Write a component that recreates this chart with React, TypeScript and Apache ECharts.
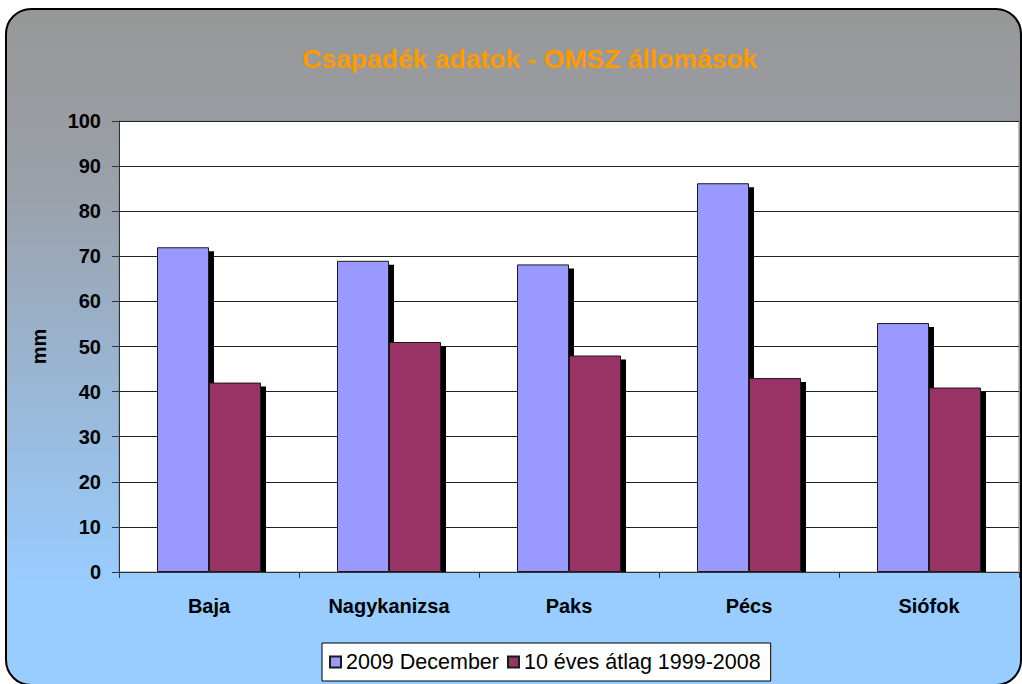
import React, { useEffect, useRef } from "react";
import * as echarts from "echarts";

const titleText = "Csapadék adatok - OMSZ állomások";
const categories = ["Baja", "Nagykanizsa", "Paks", "Pécs", "Siófok"];
const seriesNames = ["2009 December", "10 éves átlag 1999-2008"];
const december2009 = [72, 69, 68.2, 86.2, 55.2];
const avg1999_2008 = [42, 51, 48, 43, 40.9];
const yAxisName = "mm";

const BAR_W = 52;

export default function App() {
  const ref = useRef<HTMLDivElement>(null);
  useEffect(() => {
    if (!ref.current) return;
    const chart = echarts.init(ref.current, null, { renderer: "svg" });
    const font = "'Liberation Sans', Arial, sans-serif";
    const barStyle = (color: string) => ({
      color,
      borderColor: "#1a1a1a",
      borderWidth: 1,
    });
    const shadowSeries = (values: number[], seriesIdx: number) => ({
      type: "custom",
      name: "shadow" + seriesIdx,
      data: values.map((v, i) => [i, v]),
      z: 1,
      silent: true,
      renderItem: (params: any, api: any) => {
        const idx = api.value(0);
        const top = api.coord([idx, api.value(1)]);
        const base = api.coord([idx, 0]);
        const right = top[0] - BAR_W + seriesIdx * BAR_W + BAR_W;
        return {
          type: "rect",
          shape: { x: right, y: top[1] + 4, width: 5, height: base[1] - top[1] - 4 },
          style: { fill: "#000" },
        };
      },
    });
    chart.setOption({
      animation: false,
      backgroundColor: "transparent",
      title: {
        text: titleText,
        left: 297,
        top: 40,
        textStyle: { color: "#FF9900", fontSize: 26.5, fontWeight: "bold", fontFamily: font },
      },
      grid: {
        left: 119,
        right: 3,
        top: 121,
        bottom: 112,
        show: true,
        backgroundColor: "#fff",
        borderColor: "#888",
        borderWidth: 1,
      },
      legend: {
        data: seriesNames,
        left: 322,
        top: 643,
        backgroundColor: "#fff",
        borderColor: "#000",
        borderWidth: 1,
        borderRadius: 0,
        padding: [8, 10, 8, 7],
        itemGap: 8,
        itemWidth: 11,
        itemHeight: 11,
        icon: "rect",
        textStyle: { fontSize: 21.5, color: "#000", fontFamily: font },
      },
      xAxis: {
        type: "category",
        data: categories,
        axisLine: { show: true, lineStyle: { color: "#333", width: 1 } },
        axisTick: { show: true, length: 6, lineStyle: { color: "#333" } },
        axisLabel: {
          margin: 24,
          fontSize: 20,
          fontWeight: "bold",
          color: "#000",
          fontFamily: font,
        },
        z: 5,
      },
      yAxis: {
        type: "value",
        min: 0,
        max: 100,
        interval: 10,
        name: yAxisName,
        nameLocation: "middle",
        nameGap: 70,
        nameRotate: 90,
        nameTextStyle: { fontSize: 20, fontWeight: "bold", color: "#000", fontFamily: font },
        axisLine: { show: true, lineStyle: { color: "#333", width: 1 } },
        axisTick: { show: true, length: 7, lineStyle: { color: "#333" } },
        axisLabel: {
          margin: 18,
          fontSize: 20,
          fontWeight: "bold",
          color: "#000",
          fontFamily: font,
        },
        splitLine: { show: true, lineStyle: { color: "#222", width: 1 } },
      },
      series: [
        shadowSeries(december2009, 0),
        shadowSeries(avg1999_2008, 1),
        {
          name: seriesNames[0],
          type: "bar",
          data: december2009,
          barWidth: BAR_W,
          barGap: "0%",
          z: 2,
          itemStyle: barStyle("#9999FF"),
        },
        {
          name: seriesNames[1],
          type: "bar",
          data: avg1999_2008,
          barWidth: BAR_W,
          barGap: "0%",
          z: 2,
          itemStyle: barStyle("#993366"),
        },
      ],
    });
    return () => chart.dispose();
  }, []);

  return (
    <div
      style={{
        position: "fixed",
        left: 0,
        top: 0,
        width: 1022,
        height: 684,
        overflow: "hidden",
        background: "#fff",
      }}
    >
      <div
        style={{
          position: "absolute",
          left: 5,
          top: 8,
          width: 1013,
          height: 674,
          border: "2px solid #000",
          borderRadius: 26,
          background: "linear-gradient(to bottom, #979797 0%, #9aa0a8 25%, #99CCFF 85%, #99CCFF 100%)",
        }}
      />
      <div ref={ref} style={{ position: "absolute", left: 0, top: 0, width: 1022, height: 684 }} />
    </div>
  );
}
